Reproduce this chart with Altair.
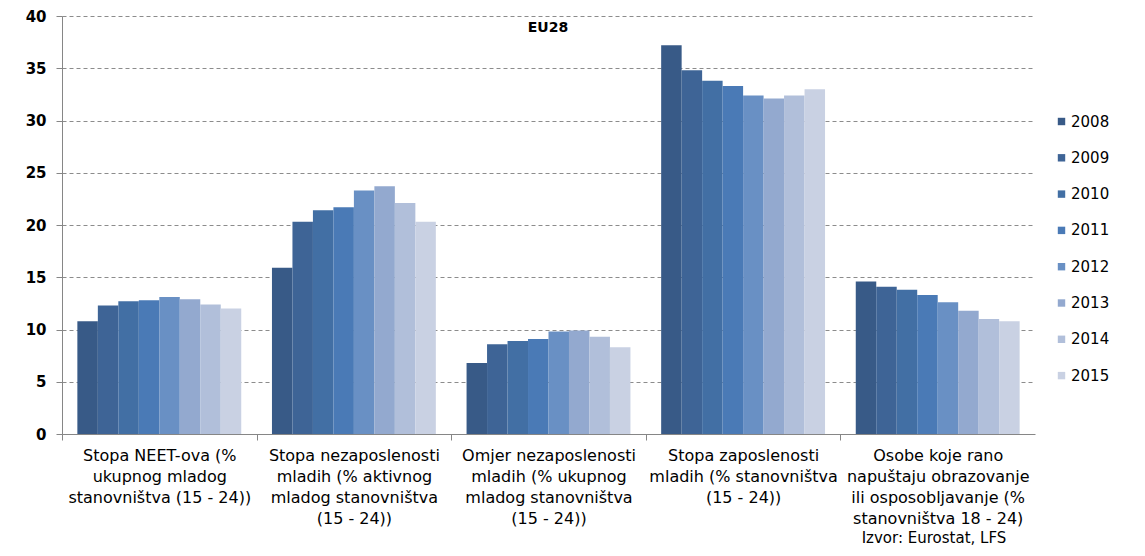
import altair as alt
import pandas as pd

categories = [
    "Stopa NEET-ova (%|ukupnog mladog|stanovništva (15 - 24))",
    "Stopa nezaposlenosti|mladih  (% aktivnog|mladog stanovništva|(15 - 24))",
    "Omjer nezaposlenosti|mladih (% ukupnog|mladog stanovništva|(15 - 24))",
    "Stopa zaposlenosti|mladih (% stanovništva|(15 - 24))",
    "Osobe koje rano|napuštaju obrazovanje|ili osposobljavanje (%|stanovništva 18 - 24)",
]
years = ["2008", "2009", "2010", "2011", "2012", "2013", "2014", "2015"]

neet = [10.8, 12.3, 12.7, 12.8, 13.1, 12.9, 12.4, 12.0]
unemp_rate = [15.9, 20.3, 21.4, 21.7, 23.3, 23.7, 22.1, 20.3]
unemp_ratio = [6.8, 8.6, 8.9, 9.1, 9.8, 9.9, 9.3, 8.3]
employment = [37.2, 34.8, 33.8, 33.3, 32.4, 32.1, 32.4, 33.0]
early_leavers = [14.6, 14.1, 13.8, 13.3, 12.6, 11.8, 11.0, 10.8]

colors = ["#385A87", "#3E6496", "#426FA4", "#4A7AB6", "#6990C4", "#93A9CF", "#B1BFDA", "#C9D1E3"]

series = [neet, unemp_rate, unemp_ratio, employment, early_leavers]
rows = []
for cat, vals in zip(categories, series):
    for y, v in zip(years, vals):
        rows.append({"cat": cat, "year": y, "value": v})
df = pd.DataFrame(rows)

W, H = 973, 418
step = W / len(categories)
FONT = "DejaVu Sans"

bars = alt.Chart(df).mark_bar().encode(
    x=alt.X(
        "cat:N",
        sort=categories,
        scale=alt.Scale(paddingInner=0, paddingOuter=0),
        axis=alt.Axis(
            title=None,
            labelExpr="split(datum.label, '|')",
            labelAngle=0,
            labelAlign="center",
            labelBaseline="top",
            labelFontSize=16,
            labelLineHeight=21,
            labelFont=FONT,
            labelColor="#000000",
            labelLimit=400,
            labelPadding=7,
            tickOffset=-step / 2,
            labelOffset=step / 2,
            tickSize=6,
            tickColor="#868686",
            domainColor="#868686",
            grid=False,
        ),
    ),
    xOffset=alt.XOffset("year:N", sort=years, scale=alt.Scale(paddingOuter=0.75, paddingInner=0)),
    y=alt.Y(
        "value:Q",
        scale=alt.Scale(domain=[0, 40]),
        axis=alt.Axis(
            title=None,
            values=[0, 5, 10, 15, 20, 25, 30, 35, 40],
            labelFontSize=15,
            labelFontWeight="bold",
            labelFont=FONT,
            labelColor="#000000",
            labelPadding=10,
            tickSize=6,
            tickColor="#868686",
            domainColor="#868686",
            gridColor="#8c8c8c",
            gridDash=[4, 3],
        ),
    ),
    color=alt.Color(
        "year:N",
        sort=years,
        scale=alt.Scale(domain=years, range=colors),
        legend=alt.Legend(
            title=None,
            orient="none",
            legendX=W + 19,
            legendY=98,
            symbolType="square",
            symbolSize=55,
            symbolStrokeWidth=0,
            labelFontSize=15,
            labelFont=FONT,
            labelColor="#000000",
            rowPadding=20.3,
            labelOffset=2,
        ),
    ),
)

title = alt.Chart(alt.Data(values=[{"t": "EU28"}])).mark_text(
    font=FONT, fontSize=14, fontWeight="bold", color="#000000"
).encode(x=alt.value(486), y=alt.value(12), text="t:N")

source = alt.Chart(alt.Data(values=[{"t": "Izvor: Eurostat, LFS"}])).mark_text(
    font=FONT, fontSize=15, color="#000000"
).encode(x=alt.value(872), y=alt.value(522), text="t:N")

chart = alt.layer(bars, title, source).properties(
    width=W,
    height=H,
    padding={"left": 54, "top": 8, "right": 100, "bottom": 120},
    autosize=alt.AutoSizeParams(type="none"),
    background="#ffffff",
).configure_view(stroke=None)

chart.save("out.html", embed_options={"renderer": "svg", "actions": False})
